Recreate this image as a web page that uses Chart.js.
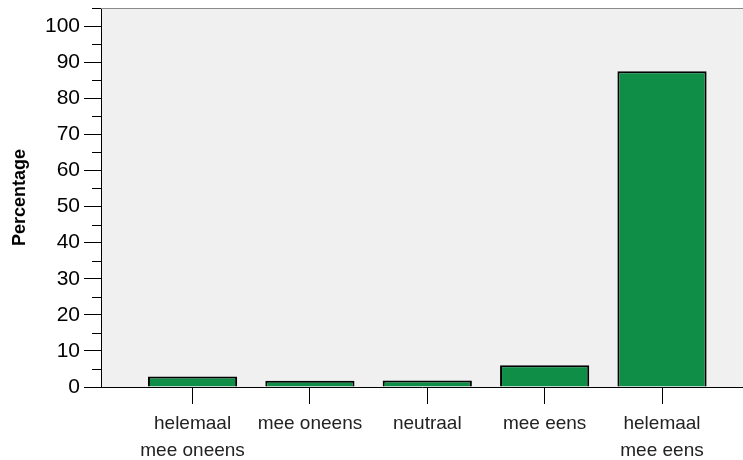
<!DOCTYPE html>
<html>
<head>
<meta charset="utf-8">
<script src="https://cdn.jsdelivr.net/npm/chart.js@4.4.0/dist/chart.umd.min.js"></script>
<style>
  html, body { margin: 0; padding: 0; background: #fff; }
  #wrap { width: 743px; height: 460px; }
</style>
</head>
<body>
<div id="wrap"><canvas id="myChart"></canvas></div>
<script>
// antwoordcategorieen en percentages
const categorieen = [
    ['helemaal', 'mee oneens'],
    'mee oneens',
    'neutraal',
    'mee eens',
    ['helemaal', 'mee eens']
];
const percentages = [2.9, 1.7, 1.8, 6.0, 87.5];
const yTicks = [0, 10, 20, 30, 40, 50, 60, 70, 80, 90, 100];

const fontFam = '"Liberation Sans", Arial, sans-serif';

const plotBg = {
    id: 'plotBg',
    beforeDraw(chart) {
        const a = chart.chartArea;
        const ctx = chart.ctx;
        ctx.save();
        ctx.fillStyle = '#f0f0f0';
        ctx.fillRect(a.left, a.top, a.right - a.left, a.bottom - a.top);
        ctx.restore();
    },
    afterDraw(chart) {
        const a = chart.chartArea;
        const ctx = chart.ctx;
        const y = chart.scales.y;
        ctx.save();
        // bovenrand
        ctx.strokeStyle = '#8a8a8a';
        ctx.lineWidth = 1;
        ctx.beginPath();
        ctx.moveTo(a.left, a.top + 0.5);
        ctx.lineTo(a.right, a.top + 0.5);
        ctx.stroke();
        // kleine streepjes op de y-as
        ctx.strokeStyle = '#000';
        for (let v = 5; v <= 105; v += 10) {
            const py = Math.round(y.getPixelForValue(v)) + 0.5;
            ctx.beginPath();
            ctx.moveTo(a.left - 9, py);
            ctx.lineTo(a.left, py);
            ctx.stroke();
        }
        ctx.restore();
    }
};

const ctx = document.getElementById('myChart');
const myChart = new Chart(ctx, {
    type: 'bar',
    data: {
        datasets: [{
            label: 'Percentage',
            data: categorieen.map((c, i) => ({ x: i, y: percentages[i] })),
            backgroundColor: '#0f8e47',
            borderColor: '#000',
            borderWidth: 2,
            categoryPercentage: 1,
            barPercentage: 0.76
        }]
    },
    options: {
        responsive: true,
        maintainAspectRatio: false,
        animation: false,
        layout: { padding: { top: 8, right: 0, left: 0, bottom: 0 } },
        plugins: {
            legend: { display: false },
            tooltip: { enabled: false }
        },
        scales: {
            x: {
                type: 'linear',
                min: -0.78,
                max: 4.69,
                offset: false,
                afterBuildTicks: scale => {
                    scale.ticks = categorieen.map((c, i) => ({ value: i }));
                },
                afterFit: scale => {
                    scale.height = 73;
                    scale.paddingLeft = 0;
                    scale.paddingRight = 0;
                },
                grid: {
                    offset: false,
                    drawOnChartArea: false,
                    drawTicks: true,
                    tickLength: 17,
                    tickColor: '#000',
                    lineWidth: 1
                },
                border: { display: true, color: '#000', width: 1 },
                ticks: {
                    autoSkip: false,
                    maxRotation: 0,
                    padding: 6,
                    color: '#222',
                    font: { family: fontFam, size: 19, lineHeight: 1.42 },
                    callback: v => categorieen[v]
                }
            },
            y: {
                min: 0,
                max: 105,
                afterFit: scale => {
                    scale.width = 101;
                    scale.paddingTop = 0;
                    scale.paddingBottom = 0;
                },
                grid: {
                    drawOnChartArea: false,
                    drawTicks: true,
                    tickLength: 17,
                    tickColor: c => (c.tick && c.tick.value % 10 === 0) ? '#000' : 'rgba(0,0,0,0)',
                    lineWidth: 1
                },
                border: { display: true, color: '#000', width: 1 },
                ticks: {
                    stepSize: 5,
                    padding: 4,
                    color: '#000',
                    font: { family: fontFam, size: 21 },
                    callback: v => yTicks.includes(v) ? String(v) : ''
                },
                title: {
                    display: true,
                    text: 'Percentage',
                    color: '#000',
                    font: { family: fontFam, size: 18, weight: 'bold' },
                    padding: { top: 9, bottom: 0 }
                }
            }
        }
    },
    plugins: [plotBg]
});
</script>
</body>
</html>
